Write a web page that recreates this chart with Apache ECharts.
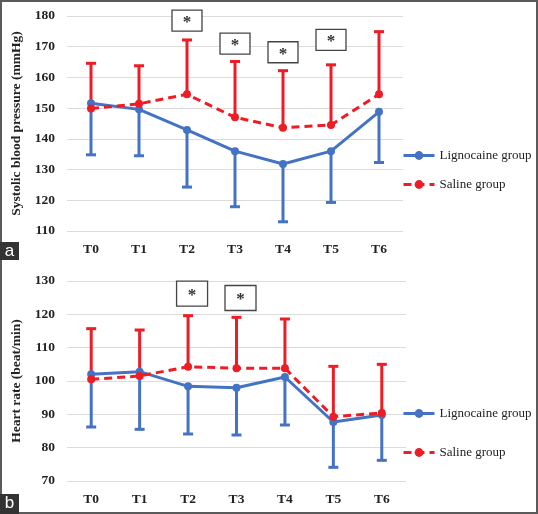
<!DOCTYPE html>
<html>
<head>
<meta charset="utf-8">
<script src="https://cdn.jsdelivr.net/npm/echarts@6/dist/echarts.min.js"></script>
<style>
html,body{margin:0;padding:0;background:#fff;}
#chart{width:538px;height:514px;}
</style>
</head>
<body>
<div id="chart"></div>
<script>
// ---- data ----
const categories = ['T0', 'T1', 'T2', 'T3', 'T4', 'T5', 'T6'];
const seriesNames = ['Lignocaine group', 'Saline group'];

// Panel a: systolic blood pressure (mmHg)
const sbpLigno = [151.6, 149.6, 142.9, 136.0, 131.8, 136.0, 148.8];
const sbpLignoLower = [134.8, 134.5, 124.3, 117.9, 113.0, 119.3, 132.3];
const sbpSaline = [149.9, 151.4, 154.5, 147.0, 143.6, 144.5, 154.5];
const sbpSalineUpper = [164.6, 163.8, 172.2, 165.2, 162.2, 164.1, 174.9];
const sbpTicks = [110, 120, 130, 140, 150, 160, 170, 180];
const sbpSig = [['T2', 178.5], ['T3', 171.0], ['T4', 168.2], ['T5', 172.2]];

// Panel b: heart rate (beat/min)
const hrLigno = [102.0, 102.8, 98.4, 98.0, 101.2, 87.7, 89.8];
const hrLignoLower = [86.2, 85.5, 84.1, 83.8, 86.8, 74.1, 76.2];
const hrSaline = [100.5, 101.5, 104.3, 103.8, 103.8, 89.3, 90.4];
const hrSalineUpper = [115.7, 115.3, 119.6, 119.1, 118.6, 104.4, 105.0];
const hrTicks = [70, 80, 90, 100, 110, 120, 130];
const hrSig = [['T2', 126.2], ['T3', 124.9]];

// ---- styles ----
const BLUE = '#4472c4';
const RED = '#ee1c25';
const SERIF = '"Liberation Serif", "Times New Roman", serif';

function errBar(color) {
  return function (params, api) {
    const i = api.value(0);
    const p1 = api.coord([i, api.value(1)]);
    const p2 = api.coord([i, api.value(2)]);
    return {
      type: 'group',
      children: [
        { type: 'line', shape: { x1: p1[0], y1: p1[1], x2: p2[0], y2: p2[1] }, style: { stroke: color, lineWidth: 3 } },
        { type: 'line', shape: { x1: p2[0] - 5, y1: p2[1], x2: p2[0] + 5, y2: p2[1] }, style: { stroke: color, lineWidth: 3 } }
      ]
    };
  };
}
function sigBox(w, h, dx) {
  return function (params, api) {
    const p = api.coord([api.value(0), api.value(1)]);
    const cx = p[0] + dx;
    return {
      type: 'group',
      children: [
        { type: 'rect', shape: { x: cx - w / 2, y: p[1] - h / 2, width: w, height: h },
          style: { fill: '#fff', stroke: '#444', lineWidth: 1.3 } },
        { type: 'text', style: { x: cx, y: p[1] + 2, text: '*', align: 'center', verticalAlign: 'middle',
          font: 'bold 17px ' + SERIF, fill: '#333' } }
      ]
    };
  };
}
function errData(mean, end) { return categories.map((c, i) => [i, mean[i], end[i]]); }
function sigData(arr) { return arr.map(d => [categories.indexOf(d[0]), d[1]]); }

function yAxis(gi, ticks, name) {
  return {
    type: 'value', gridIndex: gi,
    min: ticks[0], max: ticks[ticks.length - 1], interval: ticks[1] - ticks[0],
    name: name, nameLocation: 'middle', nameRotate: 90, nameGap: 40,
    nameTextStyle: { fontFamily: SERIF, fontWeight: 'bold', fontSize: 13.5, color: '#222' },
    axisLine: { show: false }, axisTick: { show: false },
    axisLabel: { fontFamily: SERIF, fontWeight: 'bold', fontSize: 13.5, color: '#222', margin: 12 },
    splitLine: { lineStyle: { color: '#dcdcdc', width: 1 } }
  };
}
function xAxis(gi) {
  return {
    type: 'category', gridIndex: gi, data: categories, boundaryGap: true,
    axisLine: { show: false }, axisTick: { show: false },
    axisLabel: { fontFamily: SERIF, fontWeight: 'bold', fontSize: 13.5, color: '#222', margin: 12 }
  };
}
function lineSeries(gi, name, data, color, dashed) {
  return {
    type: 'line', name: name, xAxisIndex: gi, yAxisIndex: gi, data: data,
    symbol: 'circle', symbolSize: 8, color: color,
    itemStyle: { color: color },
    lineStyle: { color: color, width: 3, type: dashed ? [8, 5] : 'solid' },
    z: 3
  };
}
function legend(top, gap) {
  return {
    data: seriesNames, orient: 'vertical', left: 397, top: top,
    itemWidth: 31, itemHeight: 11, itemGap: gap,
    lineStyle: { width: 3 },
    textStyle: { fontFamily: SERIF, fontSize: 13, color: '#222' },
    selectedMode: false
  };
}

const chart = echarts.init(document.getElementById('chart'), null, { renderer: 'canvas' });
chart.setOption({
  animation: false,
  backgroundColor: '#fff',
  grid: [
    { left: 67, right: 135, top: 16, height: 215 },
    { left: 67, right: 132, top: 281, height: 200 }
  ],
  xAxis: [xAxis(0), xAxis(1)],
  yAxis: [
    yAxis(0, sbpTicks, 'Systolic blood pressure (mmHg)'),
    yAxis(1, hrTicks, 'Heart rate (beat/min)')
  ],
  legend: [legend(144, 16), legend(402, 26)],
  series: [
    { type: 'custom', name: 'errA1', xAxisIndex: 0, yAxisIndex: 0, renderItem: errBar(BLUE),
      data: errData(sbpLigno, sbpLignoLower), encode: { x: 0, y: [1, 2] }, z: 2 },
    { type: 'custom', name: 'errA2', xAxisIndex: 0, yAxisIndex: 0, renderItem: errBar(RED),
      data: errData(sbpSaline, sbpSalineUpper), encode: { x: 0, y: [1, 2] }, z: 2 },
    lineSeries(0, seriesNames[0], sbpLigno, BLUE, false),
    lineSeries(0, seriesNames[1], sbpSaline, RED, true),
    { type: 'custom', name: 'sigA', xAxisIndex: 0, yAxisIndex: 0, renderItem: sigBox(30, 21, 0),
      data: sigData(sbpSig), encode: { x: 0, y: 1 }, z: 5 },

    { type: 'custom', name: 'errB1', xAxisIndex: 1, yAxisIndex: 1, renderItem: errBar(BLUE),
      data: errData(hrLigno, hrLignoLower), encode: { x: 0, y: [1, 2] }, z: 2 },
    { type: 'custom', name: 'errB2', xAxisIndex: 1, yAxisIndex: 1, renderItem: errBar(RED),
      data: errData(hrSaline, hrSalineUpper), encode: { x: 0, y: [1, 2] }, z: 2 },
    lineSeries(1, seriesNames[0], hrLigno, BLUE, false),
    lineSeries(1, seriesNames[1], hrSaline, RED, true),
    { type: 'custom', name: 'sigB', xAxisIndex: 1, yAxisIndex: 1, renderItem: sigBox(31, 25, 4),
      data: sigData(hrSig), encode: { x: 0, y: 1 }, z: 5 }
  ],
  graphic: [
    { type: 'rect', shape: { x: 1, y: 1, width: 536, height: 512 }, style: { fill: 'none', stroke: '#5a5a5a', lineWidth: 2 }, z: 100 },
    { type: 'rect', shape: { x: 0, y: 242, width: 19, height: 18 }, style: { fill: '#333' }, z: 101 },
    { type: 'text', style: { x: 9.5, y: 251, text: 'a', align: 'center', verticalAlign: 'middle', font: '17px "Liberation Sans", Arial, sans-serif', fill: '#fff' }, z: 102 },
    { type: 'rect', shape: { x: 0, y: 494, width: 19, height: 20 }, style: { fill: '#333' }, z: 101 },
    { type: 'text', style: { x: 9.5, y: 503, text: 'b', align: 'center', verticalAlign: 'middle', font: '17px "Liberation Sans", Arial, sans-serif', fill: '#fff' }, z: 102 }
  ]
});
</script>
</body>
</html>
